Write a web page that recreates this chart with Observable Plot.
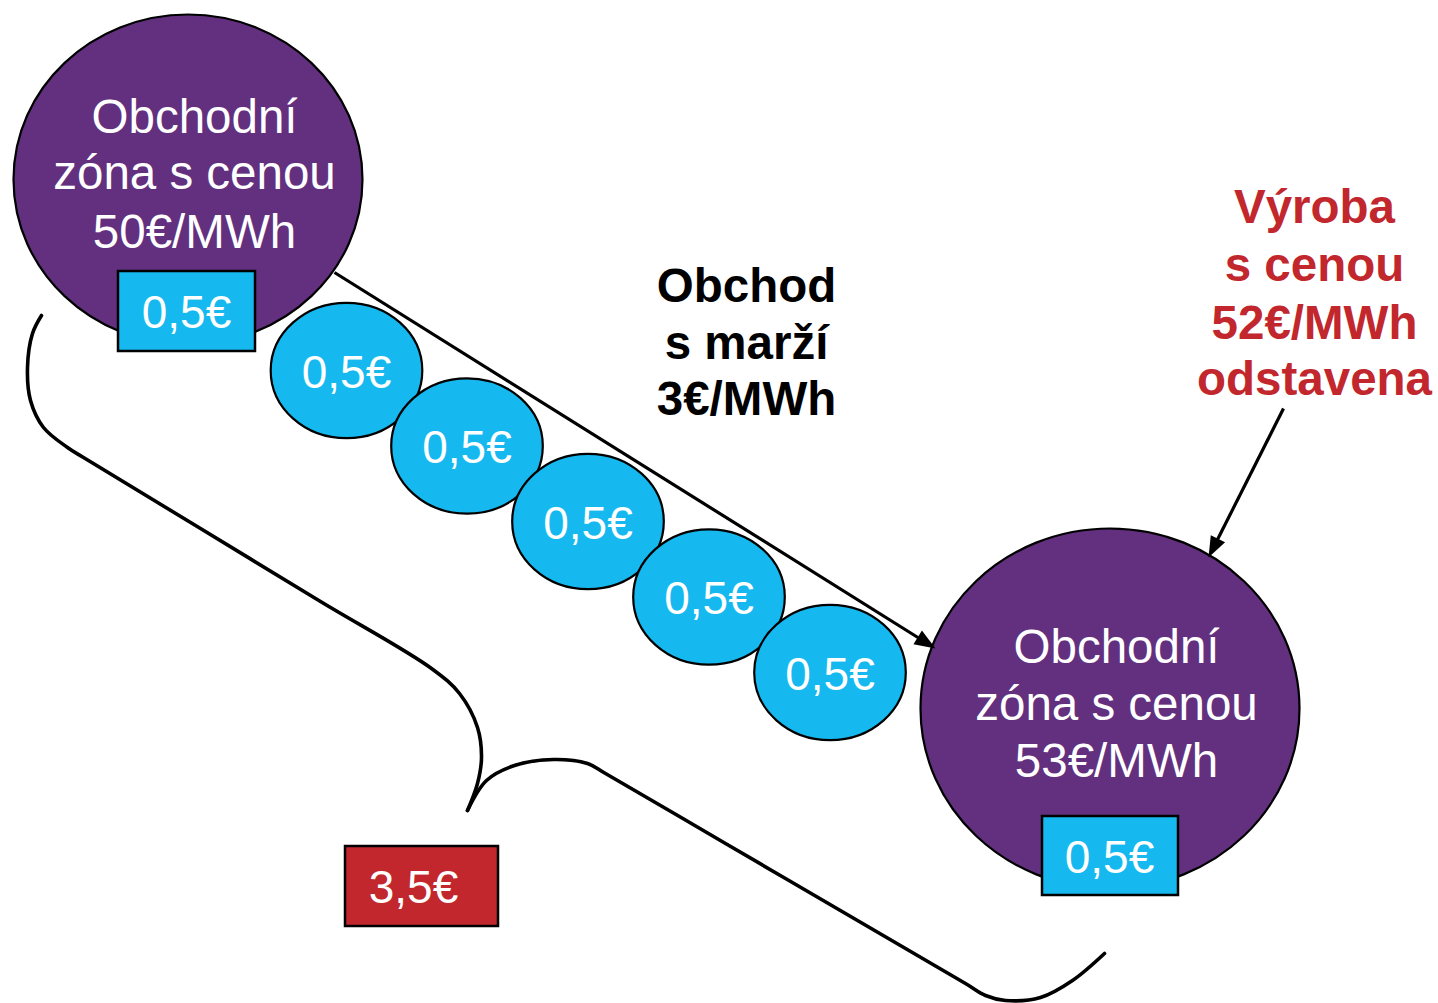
<!DOCTYPE html>
<html>
<head>
<meta charset="utf-8">
<script src="https://cdn.jsdelivr.net/npm/d3@7"></script>
<script src="https://cdn.jsdelivr.net/npm/@observablehq/plot@0.6"></script>
<style>
  html, body { margin: 0; padding: 0; background: #ffffff; }
  #chart svg { display: block; }
</style>
</head>
<body>
<div id="chart"></div>
<script>
// ---------- content ----------
const zoneLines = [
  ["Obchodní", "zóna s cenou", "50€/MWh"],
  ["Obchodní", "zóna s cenou", "53€/MWh"]
];
const coinLabels = ["0,5€", "0,5€", "0,5€", "0,5€", "0,5€"];
const boxLabels = ["0,5€", "0,5€", "3,5€"];
const tradeLines = ["Obchod", "s marží", "3€/MWh"];
const plantLines = ["Výroba", "s cenou", "52€/MWh", "odstavena"];

// ---------- layout (diagram positions, px) ----------
const zoneCX = [187.5, 1109.5];
const zoneCY = [179, 708];
const zoneRX = [174.5, 189.5];
const zoneRY = [165, 180];
const zoneTextX = [194, 1116];
const zoneTextY = [[117, 173, 232], [647, 704, 761]];

const coinCX = [346, 466.5, 587.5, 708.5, 829.5];
const coinCY = [370, 445.5, 521, 596.5, 672];
const coinRX = 75.8, coinRY = 67.7;

const boxX1 = [118, 1042, 345];
const boxX2 = [255, 1178, 498];
const boxY1 = [271, 816, 846];
const boxY2 = [351, 895, 926];
const boxTextX = [186, 1109, 413];
const boxTextY = [313, 858, 888];

const tradeTextX = 746;
const tradeTextY = [286, 343, 399];
const plantTextX = 1314;
const plantTextY = [207, 265, 323, 379];

const arrowX1 = [334, 1283];
const arrowY1 = [272, 408];
const arrowX2 = [935, 1208];
const arrowY2 = [648, 557];

const braceUpperX = [41, 32, 27, 30, 43, 67, 83, 200, 320, 431, 459, 477, 481, 477, 467];
const braceUpperY = [315, 333, 367, 400, 427, 447, 457, 528, 601, 668, 693, 727, 757, 783, 810];
const braceLowerX = [467, 486, 514, 553, 587, 605, 725, 845, 965, 985, 1005, 1040, 1072, 1104];
const braceLowerY = [810, 780, 765, 759, 763, 773, 843, 913, 983, 995, 1000, 997, 980, 953];

// ---------- colours ----------
const purple = "#62307f";
const blue = "#15b9ef";
const red = "#c1272d";
const boxFills = [blue, blue, red];
const font = "'Liberation Sans', Arial, sans-serif";

// ---------- derived tables ----------
const zones = zoneCX.map((x, i) => ({x, y: zoneCY[i], rx: zoneRX[i], ry: zoneRY[i]}));
const coins = coinCX.map((x, i) => ({x, y: coinCY[i], label: coinLabels[i]}));
const zoneTexts = zoneLines.flatMap((lines, i) =>
  lines.map((t, j) => ({x: zoneTextX[i], y: zoneTextY[i][j], text: t})));
const boxes = boxLabels.map((t, i) => ({x1: boxX1[i], x2: boxX2[i], y1: boxY1[i], y2: boxY2[i],
  fill: boxFills[i], text: t, tx: boxTextX[i], ty: boxTextY[i]}));
const tradeTexts = tradeLines.map((t, j) => ({x: tradeTextX, y: tradeTextY[j], text: t}));
const plantTexts = plantLines.map((t, j) => ({x: plantTextX, y: plantTextY[j], text: t}));
const headLen = 21;
const arrows = arrowX1.map((x1, i) => {
  const x2 = arrowX2[i], y2 = arrowY2[i], y1 = arrowY1[i];
  const dx = x2 - x1, dy = y2 - y1, len = Math.hypot(dx, dy);
  return {x1, y1, x2, y2,
    bx: x2 - dx / len * (headLen - 4), by: y2 - dy / len * (headLen - 4),
    rotate: Math.atan2(dx, -dy) * 180 / Math.PI};
});
const brace = [
  ...braceUpperX.map((x, i) => ({x, y: braceUpperY[i], seg: "a"})),
  ...braceLowerX.map((x, i) => ({x, y: braceLowerY[i], seg: "b"}))
];

// ellipse symbol: size = r*r*PI → rx = r, ry = r*aspect
function ellipse(aspect) {
  const k = 0.5522847498;
  return {
    draw(ctx, size) {
      const rx = Math.sqrt(size / Math.PI), ry = rx * aspect;
      ctx.moveTo(rx, 0);
      ctx.bezierCurveTo(rx, k * ry, k * rx, ry, 0, ry);
      ctx.bezierCurveTo(-k * rx, ry, -rx, k * ry, -rx, 0);
      ctx.bezierCurveTo(-rx, -k * ry, -k * rx, -ry, 0, -ry);
      ctx.bezierCurveTo(k * rx, -ry, rx, -k * ry, rx, 0);
      ctx.closePath();
    }
  };
}

const chart = Plot.plot({
  width: 1438,
  height: 1003,
  margin: 0,
  x: {domain: [0, 1438], range: [0, 1438], axis: null},
  y: {domain: [0, 1003], range: [0, 1003], axis: null},
  style: {fontFamily: font, background: "#ffffff"},
  marks: [
    // brace
    Plot.line(brace, {x: "x", y: "y", z: "seg", curve: "catmull-rom", stroke: "black", strokeWidth: 3.6, strokeLinecap: "round", strokeLinejoin: "round"}),
    // zones
    ...zones.map(z => Plot.dot([z], {x: "x", y: "y", r: z.rx, symbol: ellipse(z.ry / z.rx), fill: purple, stroke: "black", strokeWidth: 2.2})),
    // trade arrow lines
    Plot.link(arrows, {x1: "x1", y1: "y1", x2: "bx", y2: "by", stroke: "black", strokeWidth: 3.2}),
    Plot.vector(arrows, {x: "x2", y: "y2", rotate: "rotate", length: headLen, r: 8, shape: "spike", anchor: "end", fill: "black", stroke: "none"}),
    // coins
    ...coins.map(c => Plot.dot([c], {x: "x", y: "y", r: coinRX, symbol: ellipse(coinRY / coinRX), fill: blue, stroke: "black", strokeWidth: 2.2})),
    Plot.text(coins, {x: "x", y: d => d.y + 2.5, text: "label", fill: "white", fontSize: 46, fontFamily: font}),
    // boxes
    Plot.rect(boxes, {x1: "x1", x2: "x2", y1: "y1", y2: "y2", fill: "fill", stroke: "black", strokeWidth: 2.5}),
    Plot.text(boxes, {x: "tx", y: "ty", text: "text", fill: "white", fontSize: 46, fontFamily: font}),
    // zone texts
    Plot.text(zoneTexts, {x: "x", y: "y", text: "text", fill: "white", fontSize: 47.5, fontFamily: font}),
    // trade margin text
    Plot.text(tradeTexts, {x: "x", y: "y", text: "text", fill: "black", fontSize: 47.5, fontWeight: "bold", fontFamily: font}),
    // plant text
    Plot.text(plantTexts, {x: "x", y: "y", text: "text", fill: red, fontSize: 47.5, fontWeight: "bold", fontFamily: font})
  ]
});
document.getElementById("chart").appendChild(chart);
</script>
</body>
</html>
